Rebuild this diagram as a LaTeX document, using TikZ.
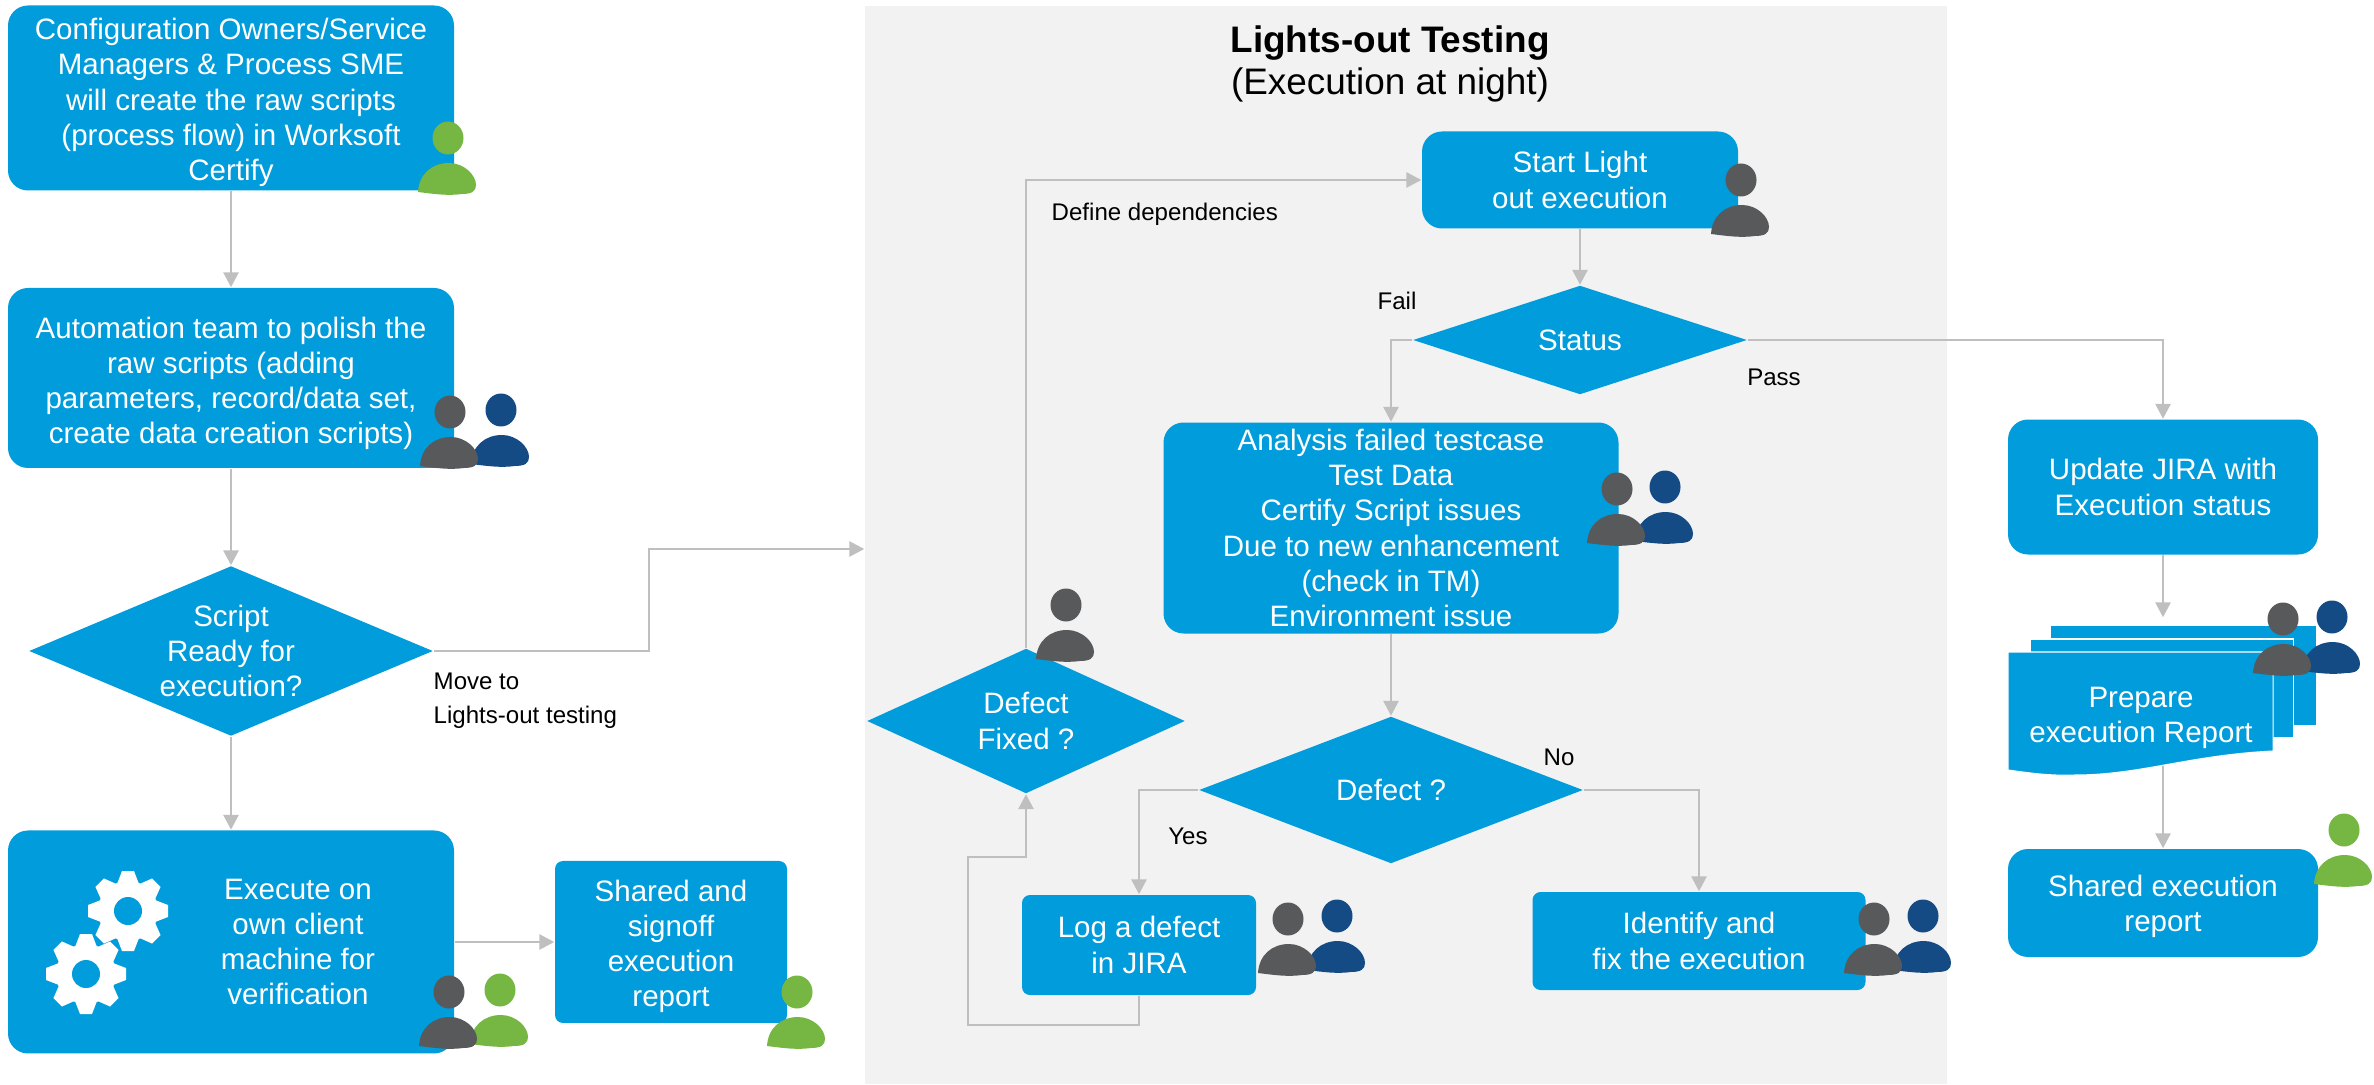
\documentclass[tikz,border=0pt]{standalone}
\usepackage{fontspec}
\setmainfont{Liberation Sans}
\usetikzlibrary{positioning,shapes.geometric,arrows.meta}
\definecolor{boxblue}{HTML}{009CDB}
\definecolor{panelgray}{HTML}{F2F2F2}
\definecolor{linegray}{HTML}{BFBFBF}
\definecolor{usergray}{HTML}{58595B}
\definecolor{usernavy}{HTML}{154B85}
\definecolor{usergreen}{HTML}{76B743}
\tikzset{
  boxtext/.style={text=white,font=\fontsize{8.4}{10}\selectfont,align=center},
  flowbox/.style={boxtext,fill=boxblue,rounded corners=2mm,inner sep=0pt},
  smallbox/.style={flowbox,rounded corners=0.8mm},
  decision/.style={boxtext,diamond,fill=boxblue,inner sep=0pt},
  sheet/.style={fill=boxblue,inner sep=0pt},
  flow/.style={draw=linegray,line width=0.8pt,-{Triangle[length=1.5mm,width=1.5mm]}},
  edgetext/.style={font=\fontsize{6.85}{9.6}\selectfont,align=left,inner sep=0pt},
  person/.pic={
    \fill[pic actions] (0,0) ellipse [x radius=15.5,y radius=16.5];
    \fill[pic actions] (-30,54) .. controls (-29,36) and (-16,25) .. (1,25)
      .. controls (16,25) and (28,37) .. (28,47)
      .. controls (28,53) and (24,56) .. (14,56)
      .. controls (0,58) and (-14,56) .. (-30,54) -- cycle;
  },
  gear/.pic={
    \fill[white] (0,0) circle [radius=30];
    \foreach \a in {0,45,...,315}
      \fill[white,rotate=\a] (-11,-27) -- (-6,-40) -- (6,-40) -- (11,-27) -- cycle;
    \fill[boxblue] (0,0) circle [radius=14];
  }
}
\begin{document}
\begin{tikzpicture}[x=0.1mm,y=-0.1mm,on grid]
  \useasboundingbox (0,0) rectangle (2374,1085);
  % left column
  \node[flowbox,minimum width=44.6mm,minimum height=18.5mm] (script) at (231,98) {};
  \node[boxtext,below=0.45mm of script] (scripttext)
    {Configuration Owners/Service\\Managers \& Process SME\\will create the raw scripts\\(process flow) in Worksoft\\Certify};
  \node[flowbox,minimum width=44.6mm,minimum height=18mm,below=28mm of script] (polish) {};
  \node[boxtext,below=0.55mm of polish] (polishtext)
    {Automation team to polish the\\raw scripts (adding\\parameters, record/data set,\\create data creation scripts)};
  \node[decision,minimum width=40.4mm,minimum height=17mm,aspect=2.37,below=27.3mm of polish] (ready)
    {Script\\Ready for\\execution?};
  \node[flowbox,minimum width=44.6mm,minimum height=22.3mm,below=29.1mm of ready] (verify) {};
  \node[boxtext,right=6.7mm of verify] (verifytext) {Execute on\\own client\\machine for\\verification};
  \node[smallbox,minimum width=23.2mm,minimum height=16.2mm,right=44mm of verify] (signoff) {};
  \node[boxtext,below=0.45mm of signoff] (signofftext) {Shared and\\signoff\\execution\\report};
  % night panel
  \node[fill=panelgray,minimum width=108.2mm,minimum height=107.8mm,inner sep=0pt] (panel) at (1406,545) {};
  \node[font=\fontsize{10.5}{12}\selectfont,align=center,inner sep=0pt] (title) at (1390,64)
    {\textbf{Lights-out Testing}\\(Execution at night)};
  \node[flowbox,minimum width=31.6mm,minimum height=9.7mm] (start) at (1580,180) {Start Light\\out execution};
  \node[decision,minimum width=33.4mm,minimum height=10.9mm,aspect=3.06,below=16mm of start] (status) {Status};
  \node[flowbox,minimum width=45.5mm,minimum height=21.1mm] (analysis) at (1391,528)
    {Analysis failed testcase\\Test Data\\Certify Script issues\\Due to new enhancement\\(check in TM)\\Environment issue};
  \node[decision,minimum width=38.4mm,minimum height=14.7mm,aspect=2.61,below=26.2mm of analysis] (defect) {Defect ?};
  \node[decision,minimum width=31.8mm,minimum height=14.5mm,aspect=2.19] (fixed) at (1026,721) {Defect\\Fixed ?};
  \node[smallbox,minimum width=23.4mm,minimum height=10mm] (log) at (1139,945) {Log a defect\\in JIRA};
  \node[smallbox,minimum width=33.3mm,minimum height=9.8mm] (identify) at (1699,941) {Identify and\\fix the execution};
  % right column
  \node[flowbox,minimum width=31mm,minimum height=13.5mm] (update) at (2163,487) {Update JIRA with\\Execution status};
  \node[flowbox,minimum width=31mm,minimum height=10.8mm,below=41.6mm of update] (shared) {};
  \node[boxtext,below=0.3mm of shared] (sharedtext) {Shared execution\\report};
  \node[sheet,minimum width=26.5mm,minimum height=9.9mm] (sheetc) at (2183.5,675.5) {};
  \node[sheet,draw=white,line width=0.3pt,minimum width=26.3mm,minimum height=9.9mm] (sheetb) at (2161.5,688.5) {};
  \coordinate (wave) at (2163,763);
  \draw[flow] (wave) -- (shared);
  \fill[boxblue,draw=white,line width=0.3pt] (2008,652) -- (2273,652) -- (2273,751)
    .. controls (2190,755) and (2140,775) .. (2075,775)
    .. controls (2050,776) and (2030,773) .. (2008,770) -- cycle;
  \node[boxtext] (report) at (2141,718) {Prepare\\execution Report};
  % connectors
  \draw[flow] (script) -- (polish);
  \draw[flow] (polish) -- (ready);
  \draw[flow] (ready) -- (verify);
  \draw[flow] (verify) -- (signoff);
  \coordinate (jog) at (649,549);
  \draw[flow] (ready.east) -| (jog) -- (panel.west |- jog);
  \draw[flow] (start) -- (status);
  \draw[flow] (status.west) -| (analysis.north);
  \draw[flow] (status.east) -| (update.north);
  \draw[flow] (analysis) -- (defect);
  \draw[flow] (defect.west) -| (log.north);
  \draw[flow] (defect.east) -| (identify.north);
  \draw[flow] (fixed.north) |- (start.west);
  \coordinate (loopa) at (1139,1025);
  \coordinate (loopb) at (968,1025);
  \coordinate (loopc) at (968,857);
  \draw[flow] (log.south) -- (loopa) -- (loopb) -- (loopc) -| (fixed.south);
  \draw[flow,shorten >=0.8mm] (update) -- (update |- sheetc.north);
  % labels
  \node[edgetext,anchor=north west] (movelabel) at (433,672) {Move to\\Lights-out testing};
  \node[edgetext,anchor=west] (deplabel) at (1051,214) {Define dependencies};
  \node[edgetext] (faillabel) at (1397,301) {Fail};
  \node[edgetext] (passlabel) at (1774,377) {Pass};
  \node[edgetext] (yeslabel) at (1188,836) {Yes};
  \node[edgetext] (nolabel) at (1559,757) {No};
  % gears
  \pic at (128,911) {gear};
  \pic at (86,974) {gear};
  % people
  \pic[fill=usergreen] at (448,138) {person};
  \pic[fill=usernavy] at (501,410) {person};
  \pic[fill=usergray] at (450,412) {person};
  \pic[fill=usergreen] at (500,990) {person};
  \pic[fill=usergray] at (449,992) {person};
  \pic[fill=usergreen] at (797,992) {person};
  \pic[fill=usergray] at (1741,180) {person};
  \pic[fill=usernavy] at (1665,487) {person};
  \pic[fill=usergray] at (1617,489) {person};
  \pic[fill=usergray] at (1066,605) {person};
  \pic[fill=usernavy] at (1337,916) {person};
  \pic[fill=usergray] at (1288,919) {person};
  \pic[fill=usernavy] at (1923,916) {person};
  \pic[fill=usergray] at (1874,919) {person};
  \pic[fill=usernavy] at (2332,617) {person};
  \pic[fill=usergray] at (2283,619) {person};
  \pic[fill=usergreen] at (2344,830) {person};
\end{tikzpicture}
\end{document}
